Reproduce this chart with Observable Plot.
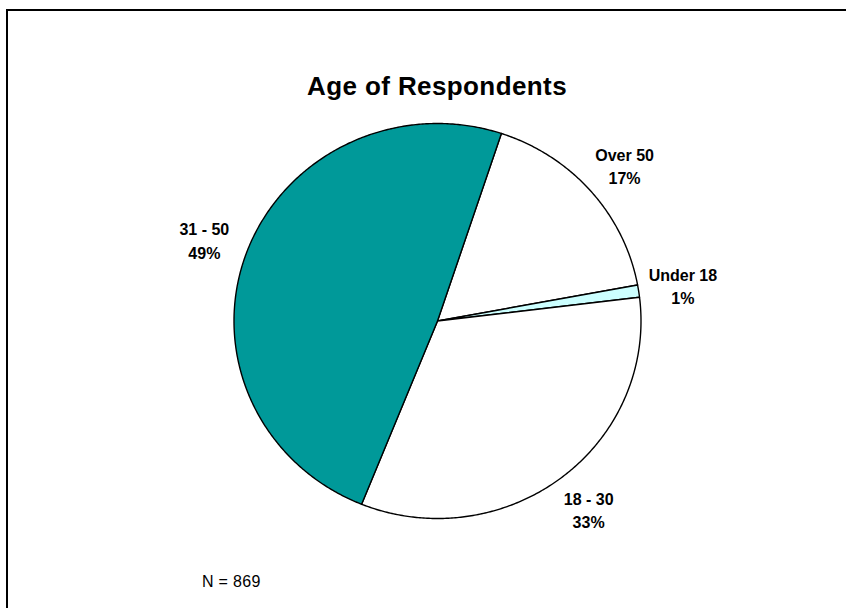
<!DOCTYPE html>
<html>
<head>
<meta charset="utf-8">
<script src="https://cdn.jsdelivr.net/npm/d3@7"></script>
<script src="https://cdn.jsdelivr.net/npm/@observablehq/plot@0.6"></script>
<style>
  html, body { margin: 0; padding: 0; background: #fff; }
  #wrap { position: relative; width: 846px; height: 608px; overflow: hidden; font-family: "Liberation Sans", Arial, sans-serif; }
  #frame { position: absolute; left: 6px; top: 9px; width: 2000px; height: 2000px; border-left: 2px solid #000; border-top: 2px solid #000; }
  #title { position: absolute; left: 137px; width: 600px; top: 73px; text-align: center; font-size: 26px; line-height: 26px; font-weight: bold; letter-spacing: 0.4px; color: #000; }
  #caption { position: absolute; left: 202px; top: 574px; font-size: 16px; line-height: 16px; letter-spacing: 0.3px; color: #000; }
  #chart { position: absolute; left: 0; top: 0; }
</style>
</head>
<body>
<div id="wrap">
  <div id="frame"></div>
  <div id="chart"></div>
  <div id="title"></div>
  <div id="caption"></div>
</div>
<script>
const titleText = "Age of Respondents";
const captionText = "N = 869";
const categories = ["Over 50", "Under 18", "18 - 30", "31 - 50"];
const values = [17, 1, 33, 49];
const percentLabels = ["17%", "1%", "33%", "49%"];
const colors = ["#FFFFFF", "#CCFFFF", "#FFFFFF", "#009999"];
const startAngleDeg = 18.3;

document.getElementById("title").textContent = titleText;
document.getElementById("caption").textContent = captionText;

const total = d3.sum(values);
let cum = 0;
const slices = categories.map((c, i) => {
  const a0 = startAngleDeg + cum / total * 360;
  cum += values[i];
  const a1 = startAngleDeg + cum / total * 360;
  const pts = [{x: 0, y: 0}];
  const steps = Math.max(2, Math.ceil((a1 - a0) / 0.5));
  for (let k = 0; k <= steps; k++) {
    const a = (a0 + (a1 - a0) * k / steps) * Math.PI / 180;
    pts.push({x: Math.sin(a), y: Math.cos(a)});
  }
  pts.push({x: 0, y: 0});
  const am = (a0 + a1) / 2 * Math.PI / 180;
  return {category: c, percent: percentLabels[i], color: colors[i], pts, lx: 1.22 * Math.sin(am), ly: 1.2 * Math.cos(am)};
});

const marks = slices.map(s => Plot.line(s.pts, {x: "x", y: "y", fill: s.color, stroke: "#000", strokeWidth: 1.4, strokeLinejoin: "round"}));
marks.push(Plot.text(slices, {
  x: "lx", y: "ly",
  text: d => d.category + "\n" + d.percent,
  fontSize: 16, fontWeight: "bold", lineHeight: 1.45, fill: "#000",
  textAnchor: "middle"
}));

const cx = 437, cy = 320.5, rx = 203.5, ry = 197.5;
const W = 846, H = 608;
const chart = Plot.plot({
  width: W, height: H,
  marginLeft: cx - rx, marginRight: W - (cx + rx),
  marginTop: cy - ry, marginBottom: H - (cy + ry),
  x: {domain: [-1, 1], axis: null},
  y: {domain: [-1, 1], axis: null},
  style: {fontFamily: "'Liberation Sans', Arial, sans-serif", background: "transparent", overflow: "visible"},
  marks
});
document.getElementById("chart").appendChild(chart);
</script>
</body>
</html>
